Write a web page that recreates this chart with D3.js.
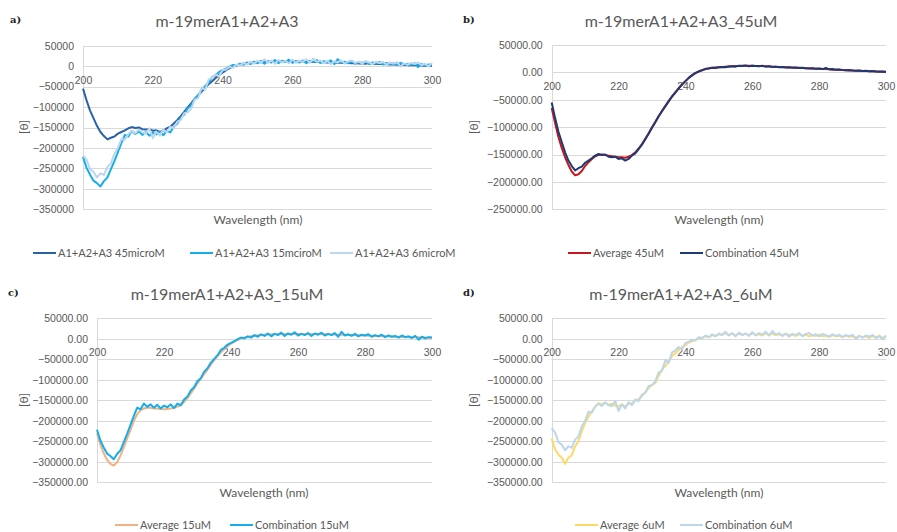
<!DOCTYPE html>
<html>
<head>
<meta charset="utf-8">
<script src="https://cdn.jsdelivr.net/npm/d3@7"></script>
<style>
    body { margin: 0; background: #fff; }
    svg { font-family: Lato, "Open Sans", sans-serif; }
    .tick text { fill: #595959; font-size: 10.5px; }
    .grid line { stroke: #d9d9d9; stroke-width: 1; }
    .title { fill: #595959; font-size: 16px; }
    .axisTitle { fill: #595959; font-size: 12px; }
    .legendText { fill: #595959; font-size: 11px; }
    .panelLabel { font-family: "DejaVu Serif", "Liberation Serif", serif; font-weight: bold; font-size: 10px; fill: #222; }
</style>
</head>
<body>
<script>
(function() {

    //wavelength scan (nm), one reading per nm
    var wavelengths = d3.range(200, 301);

    //Combination 45uM (also A1+A2+A3 45microM)
    var comb45 = [-55000,-83000,-108000,-127000,-146000,-161000,-171000,-179000,-175000,-172000,
        -165000,-161000,-157000,-152000,-149000,-151000,-150000,-154000,-155000,-154000,
        -158000,-157000,-161000,-158000,-152000,-148000,-140000,-132000,-122000,-112000,
        -101000,-91000,-80000,-71000,-62000,-53000,-44000,-37000,-29000,-22000,
        -16000,-10000,-5000,-1000,2000,4000,6500,7000,8500,8000,
        9500,10000,9500,10500,11000,10500,12000,11500,12500,11000,
        12000,11500,11000,12000,10500,11000,10000,10500,9500,10000,
        9000,9500,8500,9000,8000,8500,7500,7000,7500,6500,
        7000,6000,8000,5500,6000,5000,5500,4500,4000,4500,
        3500,3000,3500,2500,3000,2000,2500,1500,1000,1500,500];

    //Average 45uM
    var avg45 = [-65000,-92000,-118000,-138000,-155000,-169000,-181000,-188000,-186000,-180000,
        -171000,-164000,-158000,-153000,-151000,-150000,-151000,-152000,-153000,-154000,
        -155000,-155000,-156000,-154000,-151000,-146000,-139000,-131000,-121000,-111000,
        -100000,-90000,-80000,-70000,-61000,-52000,-44000,-36000,-29000,-22000,
        -16000,-10000,-5500,-1500,1500,4000,6000,7500,8500,9000,
        9500,10000,10500,11000,11000,11500,11500,12000,12000,12000,
        12000,11500,11500,11500,11000,11000,10500,10500,10000,10000,
        9500,9000,9000,8500,8500,8000,7500,7500,7000,6500,
        6500,6000,6000,5500,5000,5000,4500,4500,4000,3500,
        3500,3000,3000,2500,2500,2000,2000,1500,1500,1000,1000];

    //Combination 15uM (also A1+A2+A3 15mciroM)
    var comb15 = [-222000,-248000,-265000,-280000,-286000,-294000,-281000,-272000,-252000,-232000,
        -210000,-188000,-168000,-172000,-158000,-166000,-160000,-168000,-161000,-170000,
        -163000,-167000,-160000,-169000,-158000,-162000,-148000,-141000,-126000,-118000,
        -103000,-96000,-80000,-72000,-58000,-49000,-40000,-27000,-22000,-14000,
        -10000,-6000,-1000,3000,1000,6000,3000,9000,5000,11000,
        7000,13000,6000,12000,9000,15000,7000,13000,10000,16000,
        8000,12000,9000,14000,7000,13000,10000,15000,8000,12000,
        9000,14000,5000,17000,8000,11000,7000,12000,6000,10000,
        8000,11000,5000,9000,6000,10000,4000,8000,5000,7000,
        3000,8000,4000,6000,2000,7000,-2000,5000,1000,4000,3000];

    //Average 15uM
    var avg15 = [-230000,-258000,-279000,-295000,-305000,-309000,-301000,-285000,-265000,-243000,
        -222000,-200000,-184000,-174000,-170000,-168000,-168000,-170000,-170000,-171000,
        -172000,-171000,-170000,-168000,-165000,-162000,-154000,-145000,-133000,-121000,
        -109000,-98000,-86000,-75000,-63000,-52000,-42000,-33000,-25000,-18000,
        -12000,-7000,-3000,1000,3000,5000,6500,7500,8500,9500,
        10000,10500,11000,11500,12000,12000,12000,12500,12000,12500,
        12000,12000,12000,11500,12000,11500,11500,11000,11000,11000,
        10500,10500,10000,10000,9500,9500,9000,9000,8500,8000,
        8000,7500,7500,7000,6500,6500,6000,6000,5500,5000,
        5000,4500,4500,4000,4000,3500,3500,3000,3000,2500,2500];

    //Combination 6uM (also A1+A2+A3 6microM)
    var comb6 = [-218000,-228000,-252000,-258000,-272000,-262000,-266000,-246000,-238000,-214000,
        -200000,-178000,-180000,-166000,-158000,-164000,-155000,-162000,-164000,-152000,
        -176000,-160000,-170000,-155000,-162000,-148000,-152000,-136000,-132000,-115000,
        -113000,-104000,-82000,-78000,-52000,-58000,-33000,-28000,-20000,-26000,
        -10000,-8000,-2000,-4000,4000,1000,8000,4000,11000,6000,
        13000,9000,17000,8000,14000,6000,15000,9000,13000,7000,
        16000,8000,14000,10000,17000,8000,19000,10000,14000,7000,
        13000,5000,12000,9000,14000,6000,12000,14000,8000,11000,
        6000,12000,9000,5000,11000,7000,10000,4000,9000,6000,
        10000,-1000,7000,3000,8000,5000,9000,2000,6000,-1000,8000];

    //Average 6uM
    var avg6 = [-243000,-270000,-282000,-290000,-305000,-290000,-284000,-262000,-250000,-225000,
        -205000,-190000,-178000,-165000,-157000,-160000,-156000,-161000,-158000,-163000,
        -165000,-160000,-166000,-157000,-158000,-151000,-147000,-140000,-130000,-120000,
        -112000,-108000,-90000,-75000,-66000,-55000,-42000,-35000,-27000,-20000,
        -16000,-9000,-6000,-2000,1000,3000,6000,4000,9000,7000,
        11000,10000,14000,9000,12000,8000,13000,10000,12000,9000,
        14000,10000,11000,8000,13000,10000,12000,9000,11000,8000,
        12000,9000,10000,7000,11000,8000,10000,6000,9000,7000,
        10000,6000,8000,5000,9000,6000,7000,4000,8000,5000,
        6000,3000,7000,4000,6000,2000,7000,3000,8000,2000,5000];

    //x axis ticks
    var xTicks = [200, 220, 240, 260, 280, 300];
    var yTicksWide = [50000, 0, -50000, -100000, -150000, -200000, -250000, -300000, -350000];
    var yTicksNarrow = [50000, 0, -50000, -100000, -150000, -200000, -250000];

    var svg = d3.select("body")
        .append("svg")
        .attr("width", 897)
        .attr("height", 532);

    //panel setups
    var panels = [
        {
            label: "a)", labelX: 10, labelY: 23,
            title: "m-19merA1+A2+A3", titleX: 227, titleY: 27,
            x0: 83, x1: 432, yTop: 45.7, yBottom: 209.3,
            yTicks: yTicksWide, fmt: d3.format("d"),
            yLabelX: 24, yLabelY: 127, xTitleX: 258, xTitleY: 224,
            legendY: 253, legendX: [33, 190, 330],
            series: [
                {name: "A1+A2+A3 45microM", values: comb45, color: "#2a62a8"},
                {name: "A1+A2+A3 15mciroM", values: comb15, color: "#14aeea"},
                {name: "A1+A2+A3 6microM", values: comb6, color: "#bcd6ee"}
            ]
        },
        {
            label: "b)", labelX: 463, labelY: 23,
            title: "m-19merA1+A2+A3_45uM", titleX: 681, titleY: 27,
            x0: 551.7, x1: 886, yTop: 45, yBottom: 209.3,
            yTicks: yTicksNarrow, fmt: d3.format(".2f"),
            yLabelX: 474, yLabelY: 127, xTitleX: 719, xTitleY: 224,
            legendY: 253, legendX: [568, 680],
            series: [
                {name: "Average 45uM", values: avg45, color: "#c8161e"},
                {name: "Combination 45uM", values: comb45, color: "#1f3a72"}
            ]
        },
        {
            label: "c)", labelX: 8, labelY: 296,
            title: "m-19merA1+A2+A3_15uM", titleX: 227, titleY: 300,
            x0: 97, x1: 432, yTop: 318.3, yBottom: 482.3,
            yTicks: yTicksWide, fmt: d3.format(".2f"),
            yLabelX: 24, yLabelY: 400, xTitleX: 264, xTitleY: 497,
            legendY: 525, legendX: [115, 230],
            series: [
                {name: "Average 15uM", values: avg15, color: "#f4b183"},
                {name: "Combination 15uM", values: comb15, color: "#14aeea"}
            ]
        },
        {
            label: "d)", labelX: 463, labelY: 296,
            title: "m-19merA1+A2+A3_6uM", titleX: 681, titleY: 300,
            x0: 551.7, x1: 886, yTop: 318.3, yBottom: 482.3,
            yTicks: yTicksWide, fmt: d3.format(".2f"),
            yLabelX: 474, yLabelY: 400, xTitleX: 719, xTitleY: 497,
            legendY: 525, legendX: [575, 680],
            series: [
                {name: "Average 6uM", values: avg6, color: "#ffd966"},
                {name: "Combination 6uM", values: comb6, color: "#bcd6ee"}
            ]
        }
    ];

    panels.forEach(drawPanel);

    function drawPanel(p) {
        var g = svg.append("g");

        var xScale = d3.scaleLinear()
            .domain([200, 300])
            .range([p.x0, p.x1]);

        var yScale = d3.scaleLinear()
            .domain([p.yTicks[p.yTicks.length - 1], p.yTicks[0]])
            .range([p.yBottom, p.yTop]);

        //horizontal gridlines
        g.append("g")
            .attr("class", "grid")
            .selectAll("line")
            .data(p.yTicks)
            .enter()
            .append("line")
            .attr("x1", p.x0)
            .attr("x2", p.x1)
            .attr("y1", d => Math.round(yScale(d)) + 0.5)
            .attr("y2", d => Math.round(yScale(d)) + 0.5);

        //left axis line
        g.append("line")
            .attr("x1", Math.round(p.x0) + 0.5)
            .attr("x2", Math.round(p.x0) + 0.5)
            .attr("y1", yScale(p.yTicks[0]))
            .attr("y2", yScale(p.yTicks[p.yTicks.length - 1]))
            .style("stroke", "#d9d9d9");

        //y axis labels
        var yAxis = d3.axisLeft(yScale)
            .tickValues(p.yTicks)
            .tickFormat(p.fmt)
            .tickSize(0)
            .tickPadding(9);
        g.append("g")
            .attr("transform", "translate(" + p.x0 + ",0)")
            .call(yAxis)
            .call(a => a.select(".domain").remove());

        //x axis labels sit under the zero line
        var xAxis = d3.axisBottom(xScale)
            .tickValues(xTicks)
            .tickFormat(d3.format("d"))
            .tickSize(0)
            .tickPadding(10);
        g.append("g")
            .attr("transform", "translate(0," + yScale(0) + ")")
            .call(xAxis)
            .call(a => a.select(".domain").remove());

        //data lines
        var line = d3.line()
            .x((d, i) => xScale(wavelengths[i]))
            .y(d => yScale(d));

        p.series.forEach(function(s) {
            g.append("path")
                .datum(s.values)
                .attr("d", line)
                .style("fill", "none")
                .style("stroke", s.color)
                .style("stroke-width", 2)
                .style("stroke-linejoin", "round");
        });

        //titles
        g.append("text")
            .attr("class", "title")
            .attr("x", p.titleX)
            .attr("y", p.titleY)
            .attr("text-anchor", "middle")
            .text(p.title);

        g.append("text")
            .attr("class", "panelLabel")
            .attr("x", p.labelX)
            .attr("y", p.labelY)
            .text(p.label);

        g.append("text")
            .attr("class", "axisTitle")
            .attr("x", p.xTitleX)
            .attr("y", p.xTitleY)
            .attr("text-anchor", "middle")
            .text("Wavelength (nm)");

        g.append("text")
            .attr("class", "axisTitle")
            .attr("transform", "translate(" + (p.yLabelX + 4) + "," + p.yLabelY + ") rotate(-90)")
            .attr("text-anchor", "middle")
            .text("[θ]");

        //legend
        p.series.forEach(function(s, i) {
            var lx = p.legendX[i];
            g.append("line")
                .attr("x1", lx)
                .attr("x2", lx + 23)
                .attr("y1", p.legendY)
                .attr("y2", p.legendY)
                .style("stroke", s.color)
                .style("stroke-width", 2);
            g.append("text")
                .attr("class", "legendText")
                .attr("x", lx + 25)
                .attr("y", p.legendY + 4)
                .text(s.name);
        });
    }

})();
</script>
</body>
</html>
